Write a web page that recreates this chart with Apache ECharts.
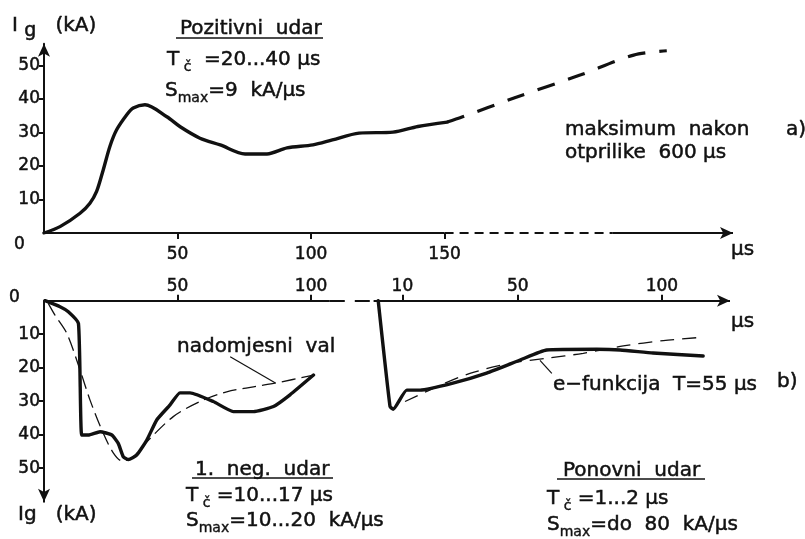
<!DOCTYPE html>
<html>
<head>
<meta charset="utf-8">
<script src="https://cdn.jsdelivr.net/npm/echarts@6/dist/echarts.min.js"></script>
<style>
html, body { margin: 0; padding: 0; background: #fff; }
#chart { width: 805px; height: 539px; }
</style>
</head>
<body>
<div id="chart"></div>
<script>
var dom = document.getElementById("chart");
var myChart = echarts.init(dom);

// a) pozitivni udar (us, kA)
var posT = [0, 6, 13.5, 17.2, 19.7, 22.2, 24.7, 27.2, 31, 33.4, 37.8, 46, 51, 58.4, 66, 75.3, 83.5, 91, 100.7, 108, 118, 130.7, 140, 151];
var posI = [0, 1.9, 5.9, 8.9, 12.4, 18.9, 25.9, 30.8, 35.3, 37.3, 38.3, 34.7, 31.7, 28.3, 26.3, 23.6, 23.6, 25.4, 26.3, 27.8, 29.8, 30.1, 31.8, 33.1];
// nastavak do maksimuma (crtkano)
var posTailT = [151, 156.5, 176, 201, 220.8, 233.2];
var posTailI = [33.1, 34.6, 40.3, 47.2, 53.1, 54.4];

// b) 1. negativni udar
var negT = [0.4, 6, 9.1, 12.9, 14.1, 16.6, 21, 25.4, 27.8, 29.7, 31.6, 34.7, 38.5, 42.2, 47.2, 50.9, 54.7, 63.4, 70.9, 78.4, 85.9, 92.1, 100.9];
var negI = [0, 1.8, 3.3, 6.8, 40.1, 40.1, 39.1, 40.1, 42.6, 46.6, 47.4, 46.1, 41.6, 35.6, 31.1, 27.5, 27.5, 30.1, 33.1, 33.1, 31.6, 28.1, 22.2];
// nadomjesni val
var negEqT = [1.6, 4.1, 8.5, 13.5, 17.2, 22.2, 26, 29.1, 32.8, 38.5, 48.4, 58.4, 68.4, 78.4, 87.2, 100.9];
var negEqI = [0.8, 4.3, 9.7, 20.7, 29.6, 39.6, 45.5, 47.8, 47, 42.1, 34.6, 30.1, 27.2, 25.7, 24.5, 22.2];

// ponovni udar
var subT = [1.6, 5.7, 6.8, 11.5, 16.1, 27.5, 39.2, 50.8, 60, 77.4, 85.5, 96.9, 114.3];
var subI = [0, 31.6, 32.4, 26.7, 26.7, 24.6, 21.6, 17.7, 14.7, 14.5, 14.7, 15.6, 16.5];
// e-funkcija T=55 us
var expT = [10.9, 21.9, 33.4, 47.3, 60, 72.7, 86.6, 100.5, 114.3];
var expI = [30.1, 25.7, 21.7, 18.7, 17.2, 15.7, 13.5, 11.9, 10.9];

// oznake osi
var posTimeTicks = [50, 100, 150];
var currentTicks = [10, 20, 30, 40, 50];
var negTimeTicks = [50, 100];
var subTimeTicks = [10, 50, 100];

function pairs(xs, ys) {
    var out = [];
    for (var i = 0; i < xs.length; i++) out.push([xs[i], ys[i]]);
    return out;
}

var ink = '#111';
var font = 'DejaVu Sans';

function seg(x1, y1, x2, y2, type, arrow, width) {
    return [
        { coord: [x1, y1], symbol: 'none', lineStyle: { type: type || 'solid', width: width || 2, color: ink } },
        { coord: [x2, y2], symbol: arrow ? 'arrow' : 'none' }
    ];
}

function markLines(list) {
    return {
        silent: true,
        animation: false,
        symbolSize: [9, 13],
        label: { show: false },
        emphasis: { disabled: true },
        lineStyle: { color: ink },
        data: list
    };
}

var labelStyle = { color: ink, fontFamily: font, fontSize: 17, textBorderColor: ink, textBorderWidth: 0.5 };

// zrender stil za graphic tekst (stroke = podebljanje slova)
var rich = {
    n: { fontFamily: font, fontSize: 20, fill: ink, stroke: ink, lineWidth: 0.5, lineHeight: 24, verticalAlign: 'bottom' },
    d: { fontFamily: font, fontSize: 17, fill: ink, stroke: ink, lineWidth: 0.5, lineHeight: 20, verticalAlign: 'bottom' },
    g: { fontFamily: font, fontSize: 19, fill: ink, stroke: ink, lineWidth: 0.5, lineHeight: 24, verticalAlign: 'bottom', padding: [0, 0, -5, 0] },
    s: { fontFamily: font, fontSize: 14, fill: ink, stroke: ink, lineWidth: 0.4, lineHeight: 18, verticalAlign: 'bottom', padding: [0, 0, -4, 0] }
};

// tekst: lijevi rub i sredina po visini
function txt(left, cy, text) {
    return {
        type: 'text',
        x: left,
        y: cy,
        style: {
            text: text,
            fill: ink,
            font: '20px "' + font + '"',
            verticalAlign: 'middle',
            rich: rich
        }
    };
}

function underline(x1, x2, y) {
    return { type: 'line', shape: { x1: x1, y1: y, x2: x2, y2: y }, style: { stroke: ink, lineWidth: 1.6 } };
}

option = {
    animation: false,
    backgroundColor: '#fff',
    grid: [
        { left: 44, top: 43.7, width: 689, height: 189.3, outerBoundsMode: 'none' },
        { left: 44, top: 300.7, width: 332, height: 201, outerBoundsMode: 'none' },
        { left: 373.6, top: 300.7, width: 356.4, height: 201, outerBoundsMode: 'none' }
    ],
    xAxis: [
        {
            gridIndex: 0, type: 'value', min: 0, max: 258,
            splitLine: { show: false },
            axisLine: { show: false },
            axisTick: { show: true, customValues: posTimeTicks, length: 6, lineStyle: { color: ink, width: 2 } },
            axisLabel: Object.assign({ customValues: posTimeTicks, margin: 13 }, labelStyle)
        },
        {
            gridIndex: 1, type: 'value', min: 0, max: 124.3, position: 'top',
            splitLine: { show: false },
            axisLine: { show: false },
            axisTick: { show: true, customValues: negTimeTicks, length: 6, lineStyle: { color: ink, width: 2 } },
            axisLabel: Object.assign({ customValues: negTimeTicks, margin: 6 }, labelStyle)
        },
        {
            gridIndex: 2, type: 'value', min: 0, max: 123.6, position: 'top',
            splitLine: { show: false },
            axisLine: { show: false },
            axisTick: { show: true, customValues: subTimeTicks, length: 6, lineStyle: { color: ink, width: 2 } },
            axisLabel: Object.assign({ customValues: subTimeTicks, margin: 6 }, labelStyle)
        }
    ],
    yAxis: [
        {
            gridIndex: 0, type: 'value', min: 0, max: 56.5,
            splitLine: { show: false },
            axisLine: { show: true, symbol: ['none', 'arrow'], symbolSize: [9, 13], lineStyle: { color: ink, width: 2 } },
            axisTick: { show: true, customValues: currentTicks, length: 5, lineStyle: { color: ink, width: 2 } },
            axisLabel: Object.assign({ customValues: currentTicks, margin: 4 }, labelStyle)
        },
        {
            gridIndex: 1, type: 'value', min: 0, max: 60, inverse: true,
            splitLine: { show: false },
            axisLine: { show: true, symbol: ['arrow', 'none'], symbolSize: [9, 13], lineStyle: { color: ink, width: 2 } },
            axisTick: { show: true, customValues: currentTicks, length: 5, lineStyle: { color: ink, width: 2 } },
            axisLabel: Object.assign({ customValues: currentTicks, margin: 4 }, labelStyle)
        },
        {
            gridIndex: 2, type: 'value', min: 0, max: 60, inverse: true, show: false
        }
    ],
    series: [
        {
            name: 'Pozitivni udar', type: 'line', xAxisIndex: 0, yAxisIndex: 0,
            data: pairs(posT, posI), showSymbol: false, smooth: 0.3,
            lineStyle: { color: ink, width: 3.4, cap: 'round', join: 'round' },
            markLine: markLines([
                seg(0, 0, 150, 0, 'solid', false),
                seg(150, 0, 213, 0, [9, 6], false),
                seg(213, 0, 258, 0, 'solid', true)
            ])
        },
        {
            name: 'Pozitivni udar - nastavak', type: 'line', xAxisIndex: 0, yAxisIndex: 0,
            data: pairs(posTailT, posTailI), showSymbol: false, smooth: 0.3,
            lineStyle: { color: ink, width: 3.2, type: [18, 14] }
        },
        {
            name: '1. neg. udar', type: 'line', xAxisIndex: 1, yAxisIndex: 1,
            data: pairs(negT, negI), showSymbol: false, smooth: 0.15,
            lineStyle: { color: ink, width: 3.4, cap: 'round', join: 'round' },
            markLine: markLines([
                seg(0, 0, 107, 0, 'solid', false),
                seg(107, 0, 124.3, 0, [15, 10], false),
                seg(69.7, 16.7, 86.5, 24.5, 'solid', false, 1.2)
            ])
        },
        {
            name: 'nadomjesni val', type: 'line', xAxisIndex: 1, yAxisIndex: 1,
            data: pairs(negEqT, negEqI), showSymbol: false, smooth: 0.3,
            lineStyle: { color: ink, width: 1.3, type: [14, 6] }
        },
        {
            name: 'Ponovni udar', type: 'line', xAxisIndex: 2, yAxisIndex: 2,
            data: pairs(subT, subI), showSymbol: false, smooth: 0.15,
            lineStyle: { color: ink, width: 3.4, cap: 'round', join: 'round' },
            markLine: markLines([
                seg(0, 0, 123.6, 0, 'solid', true),
                seg(61.8, 21.7, 57.7, 17.8, 'solid', false, 1.2)
            ])
        },
        {
            name: 'e-funkcija', type: 'line', xAxisIndex: 2, yAxisIndex: 2,
            data: pairs(expT, expI), showSymbol: false, smooth: 0.3,
            lineStyle: { color: ink, width: 1.3, type: [14, 8] }
        }
    ],
    graphic: [
        // a)
        txt(12, 24, '{n|I }{g|g}{n|   (kA)}'),
        txt(14, 243, '{d|0}'),
        txt(180, 27, '{n|Pozitivni  udar}'),
        underline(176, 323, 38),
        txt(167, 58, '{n|T}{s| č}{n|  =20...40 µs}'),
        txt(165, 89, '{n|S}{s|max}{n|=9  kA/µs}'),
        txt(565, 128, '{n|maksimum  nakon}'),
        txt(565, 151, '{n|otprilike  600 µs}'),
        txt(786, 128, '{n|a)}'),
        txt(731, 248, '{n|µs}'),
        // b)
        txt(9, 296, '{d|0}'),
        txt(177, 345, '{n|nadomjesni  val}'),
        txt(553, 383, '{n|e−funkcija  T=55 µs}'),
        txt(777, 380, '{n|b)}'),
        txt(731, 320, '{n|µs}'),
        txt(195, 468, '{n|1.  neg.  udar}'),
        underline(192, 333, 478),
        txt(186, 494, '{n|T}{s| č}{n| =10...17 µs}'),
        txt(186, 519, '{n|S}{s|max}{n|=10...20  kA/µs}'),
        txt(18, 513, '{n|Ig   (kA)}'),
        txt(563, 469, '{n|Ponovni  udar}'),
        underline(557, 705, 479),
        txt(547, 497, '{n|T}{s| č}{n| =1...2 µs}'),
        txt(547, 523, '{n|S}{s|max}{n|=do  80  kA/µs}')
    ]
};

if (option && typeof option === "object") {
    myChart.setOption(option, true);
}
</script>
</body>
</html>
